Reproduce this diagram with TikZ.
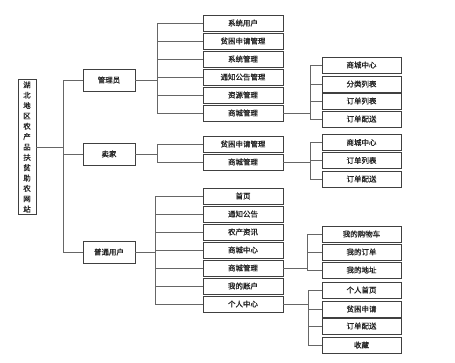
\documentclass[tikz,border=0pt]{standalone}
\usepackage{fontspec}
\newfontfamily\cjk[FakeBold=1.2]{Noto Sans CJK SC}
\begin{document}
\begin{tikzpicture}[x=1bp,y=-1bp,
  every node/.style={font=\cjk\fontsize{7.5}{9}\selectfont, text=black!85},
  bx/.style={draw=black!75, line width=0.9bp, fill=white, inner sep=0pt, minimum height=16bp},
  lone/.style={bx, minimum width=52bp, minimum height=22bp},
  ltwo/.style={bx, minimum width=80bp},
  lthree/.style={bx, minimum width=79bp},
  conn/.style={draw=black!60, line width=0.9bp}]
\useasboundingbox (0,0) rectangle (455,362);
% root
\node[bx, minimum width=18bp, minimum height=135bp, align=center,
  font=\cjk\fontsize{7.5}{10.4}\selectfont] (root) at (27,147)
  {湖\\北\\地\\区\\农\\产\\品\\扶\\贫\\助\\农\\网\\站};
% level 1
\node[lone] (gly) at (109,80) {管理员};
\node[lone] (mj) at (109,154) {卖家};
\node[lone] (pt) at (109,252) {普通用户};
\coordinate (b1) at (63,0);
\foreach \c in {gly,mj,pt} \draw[conn] (root.east) -- (root.east -| b1) |- (\c.west);
% admin children
\node[ltwo] (a1) at (243,23) {系统用户};
\node[ltwo] (a2) at (243,41) {贫困申请管理};
\node[ltwo] (a3) at (243,59) {系统管理};
\node[ltwo] (a4) at (243,77) {通知公告管理};
\node[ltwo] (a5) at (243,95) {资源管理};
\node[ltwo] (a6) at (243,113) {商城管理};
\coordinate (b2) at (157,0);
\foreach \c in {a1,a2,a3,a4,a5,a6} \draw[conn] (gly.east) -- (gly.east -| b2) |- (\c.west);
\node[lthree] (a61) at (361.5,65) {商城中心};
\node[lthree] (a62) at (361.5,84) {分类列表};
\node[lthree] (a63) at (361.5,101) {订单列表};
\node[lthree] (a64) at (361.5,119) {订单配送};
\coordinate (b3) at (310,0);
\foreach \c in {a61,a62,a63,a64} \draw[conn] (a6.east) -- (a6.east -| b3) |- (\c.west);
% seller children
\node[ltwo] (m1) at (243,144) {贫困申请管理};
\node[ltwo] (m2) at (243,162) {商城管理};
\foreach \c in {m1,m2} \draw[conn] (mj.east) -- (mj.east -| b2) |- (\c.west);
\node[lthree] (m21) at (361.5,142.5) {商城中心};
\node[lthree] (m22) at (361.5,160.5) {订单列表};
\node[lthree] (m23) at (361.5,179) {订单配送};
\foreach \c in {m21,m22,m23} \draw[conn] (m2.east) -- (m2.east -| b3) |- (\c.west);
% user children
\node[ltwo] (p1) at (243,196) {首页};
\node[ltwo] (p2) at (243,214) {通知公告};
\node[ltwo] (p3) at (243,232) {农产资讯};
\node[ltwo] (p4) at (243,250) {商城中心};
\node[ltwo] (p5) at (243,268) {商城管理};
\node[ltwo] (p6) at (243,286) {我的账户};
\node[ltwo] (p7) at (243,304) {个人中心};
\coordinate (b4) at (155,0);
\foreach \c in {p1,p2,p3,p4,p5,p6,p7} \draw[conn] (pt.east) -- (pt.east -| b4) |- (\c.west);
\node[lthree] (p51) at (361.5,234) {我的购物车};
\node[lthree] (p52) at (361.5,252) {我的订单};
\node[lthree] (p53) at (361.5,270) {我的地址};
\coordinate (b5) at (307,0);
\foreach \c in {p51,p52,p53} \draw[conn] (p5.east) -- (p5.east -| b5) |- (\c.west);
\node[lthree] (p71) at (361.5,290) {个人首页};
\node[lthree] (p72) at (361.5,309) {贫困申请};
\node[lthree] (p73) at (361.5,326) {订单配送};
\node[lthree] (p74) at (361.5,345) {收藏};
\coordinate (b6) at (308,0);
\foreach \c in {p71,p72,p73,p74} \draw[conn] (p7.east) -- (p7.east -| b6) |- (\c.west);
\end{tikzpicture}
\end{document}
